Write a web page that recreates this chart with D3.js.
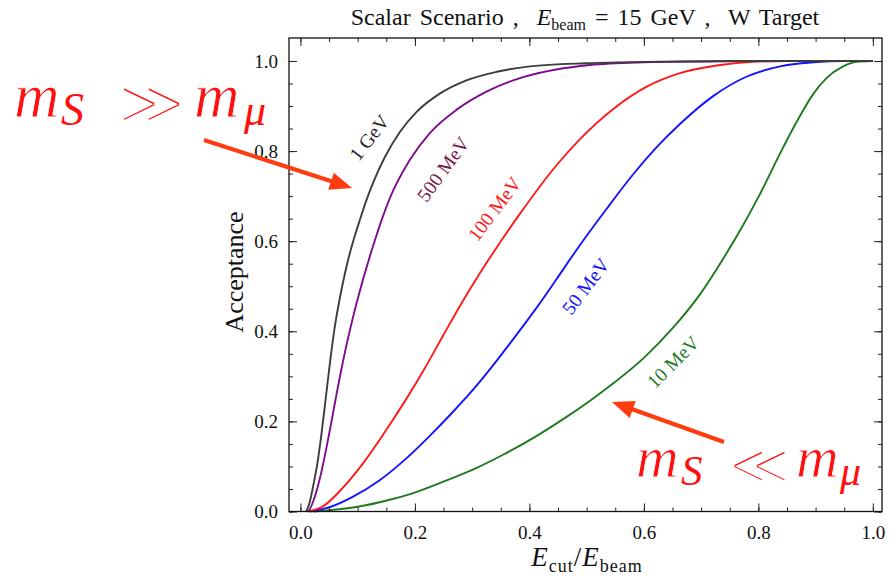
<!DOCTYPE html>
<html><head><meta charset="utf-8">
<script src="https://cdn.jsdelivr.net/npm/d3@7"></script>
<style>
html,body{margin:0;padding:0;background:#fff;}
svg{display:block;}
text{font-family:"Liberation Serif","Times New Roman",serif;}
</style></head>
<body>
<svg id="chart" width="892" height="578"></svg>
<script>
// ---------- DATA ----------
const seriesNames = ["1 GeV", "500 MeV", "100 MeV", "50 MeV", "10 MeV"];
const seriesColors = ["#3d3d3d", "#7d0e8c", "#ff1a1a", "#1414ff", "#1f7a1f"];
const labelColors = ["#222222", "#7a1446", "#ff1a1a", "#1414ff", "#1f7a1f"];

const x1GeV = [0.01, 0.016, 0.022, 0.03, 0.037, 0.045, 0.052, 0.06, 0.069, 0.078, 0.086, 0.095, 0.104, 0.115, 0.127, 0.148, 0.174, 0.203, 0.244, 0.29, 0.343, 0.401, 0.5, 0.6, 0.8, 1.0];
const y1GeV = [0, 0.02, 0.055, 0.11, 0.175, 0.26, 0.335, 0.41, 0.475, 0.53, 0.572, 0.612, 0.648, 0.69, 0.73, 0.788, 0.843, 0.887, 0.928, 0.957, 0.976, 0.988, 0.995, 0.998, 1, 1];

const x500MeV = [0.014, 0.02, 0.028, 0.037, 0.046, 0.055, 0.063, 0.078, 0.098, 0.127, 0.156, 0.191, 0.226, 0.273, 0.325, 0.389, 0.447, 0.506, 0.6, 0.7, 0.8, 1.0];
const y500MeV = [0, 0.015, 0.045, 0.09, 0.145, 0.205, 0.26, 0.355, 0.462, 0.59, 0.695, 0.78, 0.84, 0.892, 0.932, 0.964, 0.981, 0.991, 0.997, 0.999, 1, 1];

const x100MeV = [0.014, 0.04, 0.075, 0.11, 0.151, 0.18, 0.215, 0.249, 0.284, 0.314, 0.337, 0.383, 0.447, 0.488, 0.546, 0.605, 0.663, 0.733, 0.79, 0.85, 1.0];
const y100MeV = [0, 0.012, 0.054, 0.108, 0.183, 0.24, 0.313, 0.39, 0.468, 0.53, 0.575, 0.66, 0.768, 0.826, 0.893, 0.943, 0.973, 0.991, 0.998, 1, 1];

const x50MeV = [0.017, 0.052, 0.092, 0.139, 0.185, 0.226, 0.267, 0.308, 0.343, 0.378, 0.413, 0.447, 0.482, 0.535, 0.581, 0.622, 0.663, 0.721, 0.779, 0.838, 0.896, 0.95, 1.0];
const y50MeV = [0, 0.01, 0.033, 0.07, 0.118, 0.168, 0.222, 0.28, 0.335, 0.393, 0.453, 0.515, 0.58, 0.672, 0.748, 0.808, 0.86, 0.922, 0.965, 0.988, 0.997, 1, 1];

const x10MeV = [0.022, 0.098, 0.156, 0.197, 0.249, 0.308, 0.354, 0.413, 0.465, 0.506, 0.546, 0.599, 0.651, 0.698, 0.738, 0.773, 0.803, 0.838, 0.867, 0.896, 0.919, 0.948, 0.971, 0.998];
const y10MeV = [0, 0.01, 0.026, 0.041, 0.066, 0.097, 0.126, 0.168, 0.21, 0.246, 0.284, 0.34, 0.408, 0.482, 0.56, 0.635, 0.705, 0.795, 0.865, 0.927, 0.962, 0.988, 0.998, 1];

const xTicks = [0, 0.2, 0.4, 0.6, 0.8, 1.0];
const yTicks = [0, 0.2, 0.4, 0.6, 0.8, 1.0];
const xTickLabels = ["0.0", "0.2", "0.4", "0.6", "0.8", "1.0"];
const yTickLabels = ["0.0", "0.2", "0.4", "0.6", "0.8", "1.0"];

// curve-label anchor positions in data units and rotation
const labelX = [0.12, 0.249, 0.339, 0.498, 0.651];
const labelY = [0.83, 0.760, 0.672, 0.5, 0.332];
const labelAngle = [-52, -54, -53, -53, -45];

// ---------- SETUP ----------
const svg = d3.select("#chart");
const L = 289, R = 882, T = 38, B = 511.5;
const x = d3.scaleLinear().domain([-0.02, 1.016]).range([L, R]);
const y = d3.scaleLinear().domain([0, 1.051]).range([B, T]);

const seriesX = [x1GeV, x500MeV, x100MeV, x50MeV, x10MeV];
const seriesY = [y1GeV, y500MeV, y100MeV, y50MeV, y10MeV];
const series = seriesNames.map((n, i) => ({
  name: n, color: seriesColors[i], lcolor: labelColors[i],
  pts: seriesX[i].map((v, j) => [v, seriesY[i][j]])
}));

// ---------- CURVES ----------
const line = d3.line().x(d => x(d[0])).y(d => y(d[1])).curve(d3.curveMonotoneX);
svg.append("defs").append("clipPath").attr("id", "clip")
  .append("rect").attr("x", L).attr("y", T).attr("width", R - L).attr("height", B - T + 2);
svg.append("g").attr("clip-path", "url(#clip)")
  .selectAll("path").data(series.slice().reverse()).join("path")
  .attr("d", d => line(d.pts)).attr("fill", "none")
  .attr("stroke", d => d.color).attr("stroke-width", 1.9)
  .attr("stroke-linejoin", "round");

// ---------- FRAME & TICKS ----------
const minorX = d3.range(0, 1.0001, 0.05);
const minorY = d3.range(0, 1.0001, 0.05);
const axB = d3.axisBottom(x).tickValues(minorX).tickSizeInner(-4).tickSizeOuter(0).tickFormat("");
const axT = d3.axisTop(x).tickValues(minorX).tickSizeInner(-4).tickSizeOuter(0).tickFormat("");
const axL = d3.axisLeft(y).tickValues(minorY).tickSizeInner(-4).tickSizeOuter(0).tickFormat("");
const axR = d3.axisRight(y).tickValues(minorY).tickSizeInner(-4).tickSizeOuter(0).tickFormat("");
svg.append("g").attr("transform", `translate(0,${B})`).call(axB);
svg.append("g").attr("transform", `translate(0,${T})`).call(axT);
svg.append("g").attr("transform", `translate(${L},0)`).call(axL);
svg.append("g").attr("transform", `translate(${R},0)`).call(axR);
const majB = d3.axisBottom(x).tickValues(xTicks).tickSizeInner(-8).tickSizeOuter(0).tickPadding(14)
  .tickFormat((d, i) => xTickLabels[i]);
const majL = d3.axisLeft(y).tickValues(yTicks).tickSizeInner(-8).tickSizeOuter(0).tickPadding(11)
  .tickFormat((d, i) => yTickLabels[i]);
const majT = d3.axisTop(x).tickValues(xTicks).tickSizeInner(-8).tickSizeOuter(0).tickFormat("");
const majR = d3.axisRight(y).tickValues(yTicks).tickSizeInner(-8).tickSizeOuter(0).tickFormat("");
svg.append("g").attr("class", "maj").attr("transform", `translate(0,${B})`).call(majB);
svg.append("g").attr("class", "maj").attr("transform", `translate(${L},0)`).call(majL);
svg.append("g").attr("transform", `translate(0,${T})`).call(majT);
svg.append("g").attr("transform", `translate(${R},0)`).call(majR);
svg.selectAll(".domain").remove();
svg.selectAll(".tick line").attr("stroke", "#222").attr("stroke-width", 1);
svg.selectAll(".maj text").attr("font-family", "Liberation Serif").attr("font-size", 19).attr("fill", "#111");
svg.append("rect").attr("x", L).attr("y", T).attr("width", R - L).attr("height", B - T)
  .attr("fill", "none").attr("stroke", "#111").attr("stroke-width", 1.3);

// ---------- CURVE LABELS ----------
series.forEach((s, i) => {
  svg.append("text")
    .attr("transform", `translate(${x(labelX[i])},${y(labelY[i])}) rotate(${labelAngle[i]})`)
    .attr("text-anchor", "middle").attr("dy", "0.35em")
    .attr("font-size", 19.5).attr("fill", s.lcolor).text(s.name);
});

// ---------- TITLE & AXIS LABELS ----------
const title = svg.append("text").attr("x", 585).attr("y", 25).attr("text-anchor", "middle")
  .attr("font-size", 24).attr("fill", "#111").style("white-space", "pre").attr("word-spacing", 3);
title.append("tspan").text("Scalar Scenario ,  ");
title.append("tspan").attr("font-style", "italic").text("E");
title.append("tspan").attr("font-size", 16).attr("dy", 5).text("beam");
title.append("tspan").attr("dy", -5).text(" = 15 GeV ,  W Target");

const xl = svg.append("text").attr("x", 587).attr("y", 566).attr("text-anchor", "middle")
  .attr("font-size", 27).attr("fill", "#111").attr("letter-spacing", 1);
xl.append("tspan").attr("font-style", "italic").text("E");
xl.append("tspan").attr("font-size", 18).attr("dy", 6).text("cut");
xl.append("tspan").attr("dy", -6).text("/");
xl.append("tspan").attr("font-style", "italic").text("E");
xl.append("tspan").attr("font-size", 18).attr("dy", 6).text("beam");

svg.append("text").attr("transform", "translate(243,272) rotate(-90)")
  .attr("text-anchor", "middle").attr("font-size", 26).attr("fill", "#111").text("Acceptance");

// ---------- ANNOTATIONS ----------
const red = "#ff1010";
function annot(g, parts) {
  parts.forEach(p => {
    const t = g.append("text").attr("x", p.x).attr("y", p.y).attr("font-size", p.s)
      .attr("font-style", p.it ? "italic" : "normal")
      .attr("font-family", p.f || "Liberation Serif")
      .attr("fill", red).text(p.t);
    if (p.thin) {
      // thin heavy glyphs by eroding the outline with a white stroke
      t.attr("stroke", "#fff").attr("stroke-width", p.thin).attr("stroke-linejoin", "miter")
       .attr("paint-order", "fill stroke");
    }
  });
}
annot(svg.append("g"), [
  {t: "m", x: 14, y: 117, s: 63, it: true, thin: 0.8},
  {t: "S", x: 61, y: 125, s: 46, it: true},
  {t: "≫", x: 117, y: 125, s: 66, f: "DejaVu Sans", thin: 4.4},
  {t: "m", x: 194, y: 117, s: 63, it: true, thin: 0.8},
  {t: "μ", x: 244, y: 125, s: 44, it: true}
]);
annot(svg.append("g"), [
  {t: "m", x: 636, y: 477, s: 59, it: true, thin: 0.8},
  {t: "S", x: 681, y: 485, s: 43, it: true},
  {t: "≪", x: 728, y: 485, s: 60, f: "DejaVu Sans", thin: 4},
  {t: "m", x: 796, y: 477, s: 59, it: true, thin: 0.8},
  {t: "μ", x: 840, y: 485, s: 42, it: true}
]);

// arrows
const arrowColor = "#ff3b10";
function arrow(x0, y0, x1, y1) {
  const ang = Math.atan2(y1 - y0, x1 - x0);
  const hl = 22, hw = 9;
  const bx = x1 - hl * Math.cos(ang), by = y1 - hl * Math.sin(ang);
  svg.append("line").attr("x1", x0).attr("y1", y0).attr("x2", bx + 2 * Math.cos(ang)).attr("y2", by + 2 * Math.sin(ang))
    .attr("stroke", arrowColor).attr("stroke-width", 4.2);
  const px = -Math.sin(ang), py = Math.cos(ang);
  svg.append("path").attr("d",
    `M${x1},${y1} L${bx + hw * px},${by + hw * py} L${bx - hw * px},${by - hw * py} Z`)
    .attr("fill", arrowColor);
}
arrow(204, 140, 352, 188);
arrow(724, 442, 612, 402);
</script>
</body></html>
